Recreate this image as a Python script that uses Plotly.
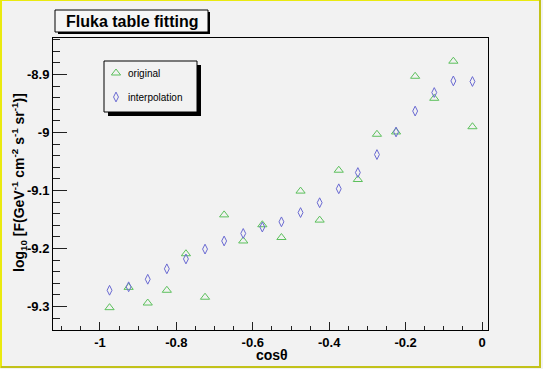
import plotly.graph_objects as go

cos_theta = [-0.975, -0.925, -0.875, -0.825, -0.775, -0.725, -0.675, -0.625, -0.575, -0.525,
             -0.475, -0.425, -0.375, -0.325, -0.275, -0.225, -0.175, -0.125, -0.075, -0.025]
original = [-9.302, -9.267, -9.294, -9.272, -9.209, -9.284, -9.142, -9.187, -9.159, -9.181,
            -9.101, -9.151, -9.065, -9.081, -9.003, -8.999, -8.903, -8.941, -8.877, -8.990]
interpolation = [-9.272, -9.266, -9.253, -9.235, -9.218, -9.201, -9.187, -9.174, -9.163, -9.154,
                 -9.138, -9.121, -9.097, -9.069, -9.038, -8.999, -8.963, -8.931, -8.911, -8.912]
x_ticks = [-1, -0.8, -0.6, -0.4, -0.2, 0]
x_tick_labels = ["-1", "-0.8", "-0.6", "-0.4", "-0.2", "0"]
y_ticks = [-9.3, -9.2, -9.1, -9.0, -8.9]
y_tick_labels = ["-9.3", "-9.2", "-9.1", "-9", "-8.9"]
series_names = ["original", "interpolation"]

W, H = 543, 369
L, R, T, B = 53, 488, 38, 330
PW, PH = R - L, B - T

GREEN = "#5cc05c"
BLUE = "#6a6ad2"
BG = "#f2f2f2"
FONT = "Liberation Sans, Arial, sans-serif"


def px_x(p):
    return (p - L) / PW


def px_y(p):
    return (B - p) / PH


fig = go.Figure()
fig.add_trace(go.Scatter(x=cos_theta, y=original, mode="markers", name=series_names[0],
                         marker=dict(symbol="triangle-up-open", size=8, color=GREEN,
                                     line=dict(width=1, color=GREEN)),
                         showlegend=False))
fig.add_trace(go.Scatter(x=cos_theta, y=interpolation, mode="markers", name=series_names[1],
                         marker=dict(symbol="diamond-tall-open", size=7, color=BLUE,
                                     line=dict(width=1, color=BLUE)),
                         showlegend=False))

# legend symbols on an overlay axis spanning the plot area
fig.add_trace(go.Scatter(x=[px_x(116)], y=[px_y(73)], mode="markers", xaxis="x2", yaxis="y2",
                         marker=dict(symbol="triangle-up-open", size=8, color=GREEN,
                                     line=dict(width=1, color=GREEN)),
                         showlegend=False, hoverinfo="skip"))
fig.add_trace(go.Scatter(x=[px_x(116)], y=[px_y(97)], mode="markers", xaxis="x2", yaxis="y2",
                         marker=dict(symbol="diamond-tall-open", size=7, color=BLUE,
                                     line=dict(width=1, color=BLUE)),
                         showlegend=False, hoverinfo="skip"))

shapes = []
# legend box with shadow
shapes.append(dict(type="rect", xref="paper", yref="paper", x0=px_x(108), x1=px_x(201),
                   y0=px_y(65), y1=px_y(116), fillcolor="black", line=dict(width=0), layer="below"))
shapes.append(dict(type="rect", xref="paper", yref="paper", x0=px_x(104), x1=px_x(197),
                   y0=px_y(61), y1=px_y(112), fillcolor=BG, line=dict(width=1, color="black"),
                   layer="below"))
# title box with shadow
shapes.append(dict(type="rect", xref="paper", yref="paper", x0=px_x(58), x1=px_x(210),
                   y0=px_y(12), y1=px_y(34), fillcolor="black", line=dict(width=0), layer="below"))
shapes.append(dict(type="rect", xref="paper", yref="paper", x0=px_x(55), x1=px_x(208),
                   y0=px_y(10), y1=px_y(32), fillcolor="#f6f6f6", line=dict(width=1, color="black"),
                   layer="below"))
# canvas bevel border
shapes.append(dict(type="line", xref="paper", yref="paper", x0=px_x(1), x1=px_x(1),
                   y0=px_y(0), y1=px_y(368), line=dict(width=2, color="#eaea10")))
shapes.append(dict(type="line", xref="paper", yref="paper", x0=px_x(0), x1=px_x(541),
                   y0=px_y(0.5), y1=px_y(0.5), line=dict(width=1, color="#eaea10")))
shapes.append(dict(type="line", xref="paper", yref="paper", x0=px_x(540), x1=px_x(540),
                   y0=px_y(0), y1=px_y(368), line=dict(width=2, color="#c2c21a")))
shapes.append(dict(type="line", xref="paper", yref="paper", x0=px_x(1), x1=px_x(541),
                   y0=px_y(367), y1=px_y(367), line=dict(width=2, color="#c2c21a")))

annotations = [
    dict(text="<b>Fluka table fitting</b>", xref="paper", yref="paper", x=px_x(131.5), y=px_y(21),
         xanchor="center", yanchor="middle", showarrow=False, font=dict(size=16, color="black", family=FONT)),
    dict(text=series_names[0], xref="paper", yref="paper", x=px_x(126), y=px_y(73),
         xanchor="left", yanchor="middle", showarrow=False, font=dict(size=10, color="black", family=FONT)),
    dict(text=series_names[1], xref="paper", yref="paper", x=px_x(126), y=px_y(97),
         xanchor="left", yanchor="middle", showarrow=False, font=dict(size=10, color="black", family=FONT)),
    dict(text="<b>log<sub>10</sub> [F(GeV<sup>-1</sup> cm<sup>-2</sup> s<sup>-1</sup> sr<sup>-1</sup>)]</b>",
         xref="paper", yref="paper", x=px_x(19), y=px_y(183), textangle=-90,
         xanchor="center", yanchor="middle", showarrow=False, font=dict(size=14, color="black", family=FONT)),
    dict(text="<b>cosθ</b>", xref="paper", yref="paper", x=px_x(272), y=px_y(355),
         xanchor="center", yanchor="middle", showarrow=False, font=dict(size=14, color="black", family=FONT)),
]

fig.update_layout(
    width=W, height=H,
    margin=dict(l=L, r=W - R, t=T, b=H - B, pad=0, autoexpand=False),
    paper_bgcolor=BG, plot_bgcolor=BG,
    showlegend=False,
    font=dict(family=FONT, color="black"),
    shapes=shapes,
    annotations=annotations,
    xaxis=dict(range=[-1.123, 0.0157], tickvals=x_ticks, ticktext=x_tick_labels, automargin=False,
               ticks="inside", ticklen=8, tickwidth=1, tickcolor="#222",
               showline=True, linecolor="black", linewidth=1, mirror=True,
               showgrid=False, zeroline=False,
               tickfont=dict(size=13, family=FONT, color="black", weight="bold"),
               minor=dict(dtick=0.05, tick0=0, ticks="inside", ticklen=4, tickcolor="#222", showgrid=False)),
    yaxis=dict(range=[-9.3405, -8.837], tickvals=y_ticks, ticktext=y_tick_labels, automargin=False,
               ticks="inside", ticklen=14, tickwidth=1, tickcolor="#222",
               showline=True, linecolor="black", linewidth=1, mirror=True,
               showgrid=False, zeroline=False,
               tickfont=dict(size=13, family=FONT, color="black", weight="bold"),
               minor=dict(dtick=0.02, tick0=0, ticks="inside", ticklen=7, tickcolor="#222", showgrid=False)),
    xaxis2=dict(overlaying="x", range=[0, 1], visible=False, fixedrange=True),
    yaxis2=dict(overlaying="y", range=[0, 1], visible=False, fixedrange=True),
)

fig.write_html("out.html", config={"displayModeBar": False},
               post_script="document.body.style.margin='0px';document.body.style.overflow='hidden';")
